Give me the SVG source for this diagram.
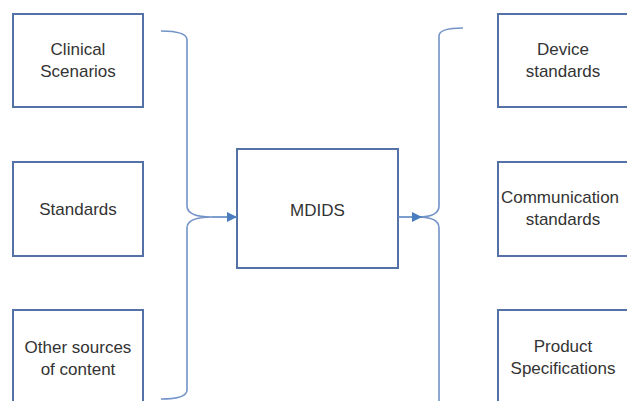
<svg xmlns="http://www.w3.org/2000/svg" width="627" height="401" viewBox="0 0 627 401">
<style>
.box{fill:#ffffff;stroke:#5572a8;stroke-width:2}
.lbl{font-family:"Liberation Sans",Arial,sans-serif;font-size:17px;fill:#333333;text-anchor:middle}
.con{fill:none;stroke:#7393c9;stroke-width:1.6}
.arr{fill:none;stroke:#5b86c4;stroke-width:1.6}
</style>
<defs>
<marker id="ah" viewBox="0 0 10 10" refX="10" refY="5" markerWidth="10" markerHeight="10" markerUnits="userSpaceOnUse" orient="auto">
<path d="M0,0 L10,5 L0,10 z" fill="#4a7cc0"/>
</marker>
</defs>
<rect width="627" height="401" fill="#ffffff"/>
<g id="clinical"><rect class="box" x="13" y="14" width="130" height="93"/><text class="lbl" x="78" y="55">Clinical</text><text class="lbl" x="78" y="77">Scenarios</text></g>
<g id="standards"><rect class="box" x="13" y="162" width="130" height="94"/><text class="lbl" x="78" y="215">Standards</text></g>
<g id="other"><rect class="box" x="13" y="310" width="130" height="94"/><text class="lbl" x="78" y="353">Other sources</text><text class="lbl" x="78" y="375">of content</text></g>
<g id="mdids"><rect class="box" x="237" y="149" width="161" height="119"/><text class="lbl" x="317.5" y="216">MDIDS</text></g>
<g id="device"><rect class="box" x="498" y="14" width="131" height="93"/><text class="lbl" x="563" y="55">Device</text><text class="lbl" x="563" y="77">standards</text></g>
<g id="comm"><rect class="box" x="498" y="162" width="131" height="94"/><text class="lbl" x="560" y="203">Communication</text><text class="lbl" x="563" y="225">standards</text></g>
<g id="product"><rect class="box" x="498" y="310" width="131" height="94"/><text class="lbl" x="563" y="352">Product</text><text class="lbl" x="563" y="374">Specifications</text></g>
<g id="connectors">
<path class="con" d="M161,31 Q187,31 187,40 L187,206 Q187,217 212,217 Q187,217 187,228 L187,390 Q187,399 161,399"/>
<path class="arr" d="M212,217 L237,217" marker-end="url(#ah)"/>
<path class="con" d="M463,28 Q439,28 439,36 L439,206 Q439,217 418,217 Q439,217 439,228 L439,401"/>
<path class="arr" d="M398,217 L422,217" marker-end="url(#ah)"/>
</g>
</svg>
